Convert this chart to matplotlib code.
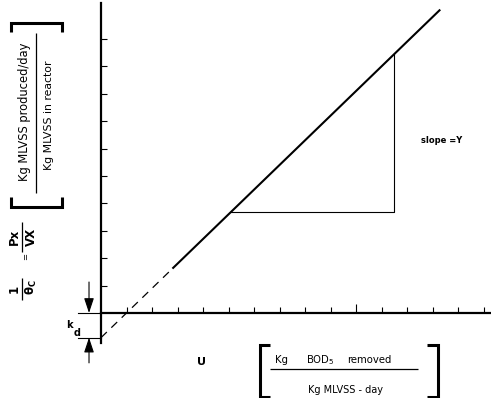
import matplotlib
matplotlib.use('Agg')
import matplotlib.pyplot as plt
from matplotlib.lines import Line2D

plt.rcParams['font.family'] = 'DejaVu Sans'
plt.rcParams['mathtext.default'] = 'regular'

#==============================================================================
#                      datos del grafico (1/theta_c vs U)
#==============================================================================
Y = 0.9          # pendiente
kd = 0.9         # ordenada negativa

u_dashed = [0.0, 2.8]
v_dashed = [-0.9, 1.62]
u_solid = [2.8, 13.3]
v_solid = [1.62, 11.07]

# triangulo de la pendiente
tri_u = [5.1, 11.5, 11.5]
tri_v = [3.7, 3.7, 9.45]

x_ticks = list(range(1, 16))
y_ticks = list(range(1, 11))

W, H = 491, 398
fig = plt.figure(figsize=(W / 100, H / 100), dpi=100)


def fx(px):
    return px / W


def fy(py):
    return 1 - py / H


ax = fig.add_axes([fx(101), fy(342.7), fx(490) - fx(101), fy(3) - fy(342.7)])
ax.set_xlim(0, 15.25)
ax.set_ylim(-1.084, 11.31)
ax.patch.set_alpha(0)

ax.spines['top'].set_visible(False)
ax.spines['right'].set_visible(False)
ax.spines['bottom'].set_position(('data', 0))
ax.spines['left'].set_linewidth(1.6)
ax.spines['bottom'].set_linewidth(1.6)

ax.set_xticks(x_ticks)
ax.set_yticks(y_ticks)
ax.set_xticklabels([])
ax.set_yticklabels([])
ax.tick_params(axis='both', direction='in', length=4.3, width=0.8)
# la marca de 10 es mas larga
ax.xaxis.get_major_ticks()[9].tick1line.set_markersize(6.5)

# recta
ax.plot(u_dashed, v_dashed, color='black', lw=0.9, dashes=(6.5, 5), clip_on=False)
ax.plot(u_solid, v_solid, color='black', lw=1.5, solid_capstyle='butt', clip_on=False)
ax.plot(tri_u, tri_v, color='black', lw=0.8)
ax.text(13.35, 6.3, 'slope =Y', fontsize=6, fontweight='bold', ha='center', va='center')

# kd
ax.plot([-0.9, 0], [0, 0], color='black', lw=0.8, clip_on=False)
ax.plot([-0.9, 0], [-kd, -kd], color='black', lw=0.8, clip_on=False)
ap = dict(arrowstyle='-|>,head_length=0.9,head_width=0.3', color='black', lw=0.8,
          shrinkA=0, shrinkB=0)
ax.annotate('', xy=(-0.47, 0), xytext=(-0.47, 1.13), arrowprops=ap, annotation_clip=False)
ax.annotate('', xy=(-0.47, -kd), xytext=(-0.47, -1.82), arrowprops=ap, annotation_clip=False)
ax.text(-1.25, -0.45, 'k', fontsize=7, fontweight='bold', ha='center', va='center')
ax.text(-0.95, -0.72, 'd', fontsize=7, fontweight='bold', ha='center', va='center')

#==============================================================================
#                      rotulo eje y
#==============================================================================
fig.text(fx(14.5), fy(289), '1', fontsize=8.5, fontweight='bold', rotation=90, ha='center', va='center')
fig.text(fx(31), fy(287), r'$\mathbf{\theta}_{\mathbf{C}}$', fontsize=8.5, rotation=90, ha='center', va='center')
fig.text(fx(26), fy(256), '=', fontsize=6, rotation=90, ha='center', va='center')
fig.text(fx(14.5), fy(237), 'Px', fontsize=8.5, fontweight='bold', rotation=90, ha='center', va='center')
fig.text(fx(31), fy(237), 'VX', fontsize=8.5, fontweight='bold', rotation=90, ha='center', va='center')
fig.text(fx(25), fy(112), 'Kg MLVSS produced/day', fontsize=8.3, rotation=90, ha='center', va='center')
fig.text(fx(48.5), fy(115), 'Kg MLVSS in reactor', fontsize=7.8, rotation=90, ha='center', va='center')

lines = [
    ([21.5, 21.5], [278, 300], 0.9),
    ([21.5, 21.5], [222, 252], 0.9),
    ([35.5, 35.5], [33, 193], 0.9),
    # corchetes
    ([10.5, 10.5, 62, 62], [197, 207, 207, 197], 2.2),
    ([10.5, 10.5, 62, 62], [32, 23, 23, 32], 2.2),
    ([270, 259.5, 259.5, 270], [345, 345, 397, 397], 2.2),
    ([427, 437.5, 437.5, 427], [345, 345, 397, 397], 2.2),
    ([270, 418], [369, 369], 0.9),
]
for xs, ys, lw in lines:
    fig.add_artist(Line2D([fx(v) for v in xs], [fy(v) for v in ys], color='black',
                          lw=lw, solid_joinstyle='miter', solid_capstyle='butt'))

#==============================================================================
#                      rotulo eje x
#==============================================================================
fig.text(fx(201), fy(362), 'U', fontsize=8, fontweight='bold', ha='center', va='center')
fig.text(fx(282), fy(360), 'Kg', fontsize=7.3, ha='center', va='center')
fig.text(fx(320), fy(360), 'BOD$_{5}$', fontsize=7.3, ha='center', va='center')
fig.text(fx(369), fy(360), 'removed', fontsize=7.3, ha='center', va='center')
fig.text(fx(345), fy(390), 'Kg MLVSS - day', fontsize=7, ha='center', va='center')

fig.savefig('out.png', dpi=100)
